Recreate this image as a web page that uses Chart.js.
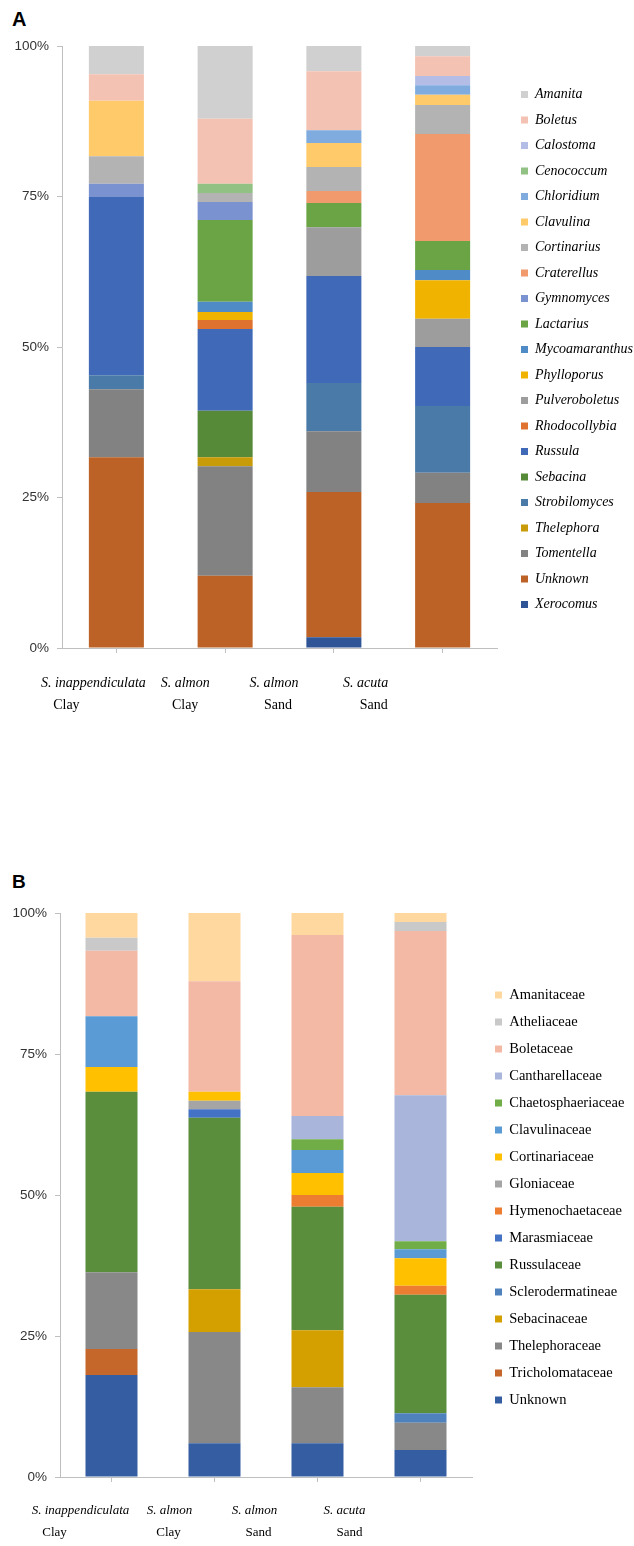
<!DOCTYPE html>
<html>
<head>
<meta charset="utf-8">
<script src="https://cdn.jsdelivr.net/npm/chart.js@4.4.0/dist/chart.umd.min.js"></script>
<style>
  html, body { margin: 0; padding: 0; background: #fff; }
  body { width: 634px; height: 1546px; position: relative; overflow: hidden; }
  .panel-tag { position: absolute; left: 12px; font-family: 'Liberation Sans', Arial, sans-serif; font-weight: bold; color: #000; }
  canvas { position: absolute; left: 0; }
</style>
</head>
<body>
<div class="panel-tag" style="top:8px; font-size:20px">A</div>
<canvas id="chart-a" width="634" height="730" style="top:0"></canvas>
<div class="panel-tag" style="top:871px; font-size:19px">B</div>
<canvas id="chart-b" width="634" height="686" style="top:860px"></canvas>
<script>
// samples (x categories)
const speciesLabels = ['S. inappendiculata', 'S. almon', 'S. almon', 'S. acuta'];
const soilLabels = ['Clay', 'Clay', 'Sand', 'Sand'];
const yTicks = [0, 25, 50, 75, 100];

// Panel A: relative abundance (%) per genus, legend order
const generaA = ['Amanita', 'Boletus', 'Calostoma', 'Cenococcum', 'Chloridium', 'Clavulina',
    'Cortinarius', 'Craterellus', 'Gymnomyces', 'Lactarius', 'Mycoamaranthus', 'Phylloporus',
    'Pulveroboletus', 'Rhodocollybia', 'Russula', 'Sebacina', 'Strobilomyces', 'Thelephora',
    'Tomentella', 'Unknown', 'Xerocomus'];
const amanita        = [4.7, 12.1, 4.2, 1.7];
const boletus        = [4.4, 10.8, 9.8, 3.3];
const calostoma      = [0, 0, 0, 1.5];
const cenococcum     = [0, 1.5, 0, 0];
const chloridium     = [0, 0, 2.1, 1.6];
const clavulina      = [9.2, 0, 4.0, 1.7];
const cortinarius    = [4.6, 1.5, 4.0, 4.8];
const craterellus    = [0, 0, 2.0, 17.8];
const gymnomyces     = [2.2, 3.0, 0, 0];
const lactarius      = [0, 13.6, 4.0, 4.8];
const mycoamaranthus = [0, 1.7, 0, 1.7];
const phylloporus    = [0, 1.3, 0, 6.4];
const pulveroboletus = [0, 0, 8.1, 4.7];
const rhodocollybia  = [0, 1.5, 0, 0];
const russula        = [29.6, 13.6, 17.8, 9.8];
const sebacina       = [0, 7.7, 0, 0];
const strobilomyces  = [2.3, 0, 8.0, 11.1];
const thelephora     = [0, 1.5, 0, 0];
const tomentella     = [11.3, 18.2, 10.1, 5.0];
const unknownA       = [31.7, 12.0, 24.1, 24.1];
const xerocomus      = [0, 0, 1.8, 0];

// Panel B: relative abundance (%) per family, legend order
const familiesB = ['Amanitaceae', 'Atheliaceae', 'Boletaceae', 'Cantharellaceae', 'Chaetosphaeriaceae',
    'Clavulinaceae', 'Cortinariaceae', 'Gloniaceae', 'Hymenochaetaceae', 'Marasmiaceae', 'Russulaceae',
    'Sclerodermatineae', 'Sebacinaceae', 'Thelephoraceae', 'Tricholomataceae', 'Unknown'];
const amanitaceae        = [4.4, 12.1, 3.9, 1.6];
const atheliaceae        = [2.3, 0, 0, 1.6];
const boletaceae         = [11.6, 19.6, 32.1, 29.1];
const cantharellaceae    = [0, 0, 4.1, 25.9];
const chaetosphaeriaceae = [0, 0, 1.9, 1.4];
const clavulinaceae      = [9.0, 0, 4.1, 1.6];
const cortinariaceae     = [4.4, 1.6, 3.9, 4.9];
const gloniaceae         = [0, 1.5, 0, 0];
const hymenochaetaceae   = [0, 0, 2.1, 1.6];
const marasmiaceae       = [0, 1.5, 0, 0];
const russulaceae        = [32.0, 30.4, 21.9, 21.0];
const sclerodermatineae  = [0, 0, 0, 1.7];
const sebacinaceae       = [0, 7.6, 10.1, 0];
const thelephoraceae     = [13.6, 19.7, 9.9, 4.8];
const tricholomataceae   = [4.6, 0, 0, 0];
const unknownB           = [18.1, 6.0, 6.0, 4.8];

const seriesA = [amanita, boletus, calostoma, cenococcum, chloridium, clavulina, cortinarius,
    craterellus, gymnomyces, lactarius, mycoamaranthus, phylloporus, pulveroboletus, rhodocollybia,
    russula, sebacina, strobilomyces, thelephora, tomentella, unknownA, xerocomus];
const seriesB = [amanitaceae, atheliaceae, boletaceae, cantharellaceae, chaetosphaeriaceae,
    clavulinaceae, cortinariaceae, gloniaceae, hymenochaetaceae, marasmiaceae, russulaceae,
    sclerodermatineae, sebacinaceae, thelephoraceae, tricholomataceae, unknownB];

const colorsA = ['#d0d0d0', '#f4c2b2', '#b4bde6', '#92c283', '#7fabdf', '#ffca6a', '#b3b3b3',
    '#f09a6e', '#7b92d0', '#6aa444', '#4f8cc7', '#f0b400', '#9d9d9d', '#e0722f', '#406ab8',
    '#568a38', '#4a7ba8', '#c89b08', '#828282', '#bc6226', '#2f5597'];
const colorsB = ['#ffd8a0', '#c9c9c9', '#f4b9a5', '#a9b5da', '#70ad47', '#5b9bd5', '#ffc000',
    '#a5a5a5', '#ed7d31', '#4472c4', '#5a8e3c', '#4f81bd', '#d4a000', '#888888', '#c5672a', '#355ea2'];

const AXIS_GREY = '#bfbfbf';

// two-line sample names under the x axis (italic species + soil type)
const sampleLabels = {
    id: 'sampleLabels',
    afterDraw(chart, args, opts) {
        const { ctx, chartArea, scales: { x } } = chart;
        ctx.save();
        ctx.fillStyle = '#000';
        ctx.textAlign = 'center';
        ctx.textBaseline = 'middle';
        speciesLabels.forEach((name, i) => {
            const cx = x.getPixelForValue(i);
            ctx.font = opts.speciesFont;
            ctx.fillText(name, cx + opts.speciesShift[i], chartArea.bottom + opts.line1);
            ctx.font = opts.soilFont;
            ctx.fillText(soilLabels[i], cx + opts.soilShift[i], chartArea.bottom + opts.line2);
        });
        ctx.restore();
    },
};

function renderStack(id, names, series, colors, cfg) {
    // datasets bottom-first (reverse of legend order), legend reversed back
    const datasets = names.map((name, i) => ({
        label: name,
        data: series[i],
        backgroundColor: colors[i],
        borderWidth: 0,
        yAxisID: 'y',
        barPercentage: cfg.barPct,
        categoryPercentage: 1,
    })).reverse();

    return new Chart(document.getElementById(id), {
        type: 'bar',
        data: {
            labels: speciesLabels.map((s, i) => s + ' ' + soilLabels[i]),
            datasets: datasets,
        },
        plugins: [sampleLabels],
        options: {
            responsive: false,
            animation: false,
            layout: { padding: cfg.padding },
            plugins: {
                tooltip: { enabled: false },
                legend: {
                    position: 'right',
                    reverse: true,
                    maxWidth: cfg.legendWidth,
                    labels: {
                        boxWidth: 7,
                        boxHeight: 7,
                        padding: cfg.legendPad,
                        color: '#000',
                        font: { family: "'Liberation Serif', 'Times New Roman', serif", size: cfg.legendSize, style: cfg.legendStyle },
                    },
                },
                sampleLabels: {
                    speciesFont: 'italic ' + cfg.labelSize + "px 'Liberation Serif', serif",
                    soilFont: cfg.labelSize + "px 'Liberation Serif', serif",
                    speciesShift: cfg.speciesShift,
                    soilShift: cfg.soilShift,
                    line1: cfg.line1,
                    line2: cfg.line2,
                },
            },
            scales: {
                x: {
                    stacked: true,
                    grid: { offset: false, drawOnChartArea: false, tickLength: 5, color: AXIS_GREY },
                    border: { color: AXIS_GREY },
                    ticks: { display: false },
                    afterFit: s => { s.height = 5; },
                },
                y: {
                    stacked: true,
                    min: 0,
                    max: 100,
                    afterBuildTicks: s => { s.ticks = yTicks.map(v => ({ value: v })); },
                    ticks: {
                        callback: v => v + '%',
                        color: '#333',
                        padding: 8,
                        font: { family: "'Liberation Sans', Arial, sans-serif", size: 13.5 },
                    },
                    grid: { drawOnChartArea: false, tickLength: 5, color: AXIS_GREY },
                    border: { color: AXIS_GREY },
                    afterFit: s => { s.width = 50; },
                },
                // empty spacer between plot and legend
                gap: {
                    position: 'right',
                    grid: { display: false },
                    ticks: { display: false },
                    border: { display: false },
                    afterFit: s => { s.width = cfg.gap; },
                },
            },
        },
    });
}

renderStack('chart-a', generaA, seriesA, colorsA, {
    padding: { top: 46, bottom: 77, left: 12, right: 0 },
    barPct: 0.506,
    legendPad: 11.5,
    legendSize: 14,
    legendStyle: 'italic',
    legendWidth: 124.5,
    gap: 12.5,
    labelSize: 14,
    line1: 35,
    line2: 57,
    speciesShift: [-23, -40, -60, -77],
    soilShift: [-50, -40, -56, -69],
});

renderStack('chart-b', familiesB, seriesB, colorsB, {
    padding: { top: 53, bottom: 64, left: 10, right: 0 },
    barPct: 0.505,
    legendPad: 12.5,
    legendSize: 14.5,
    legendStyle: 'normal',
    legendWidth: 151.5,
    gap: 10.5,
    labelSize: 13,
    line1: 34,
    line2: 56,
    speciesShift: [-31, -45, -63, -76],
    soilShift: [-57, -46, -59, -71],
});
</script>
</body>
</html>
